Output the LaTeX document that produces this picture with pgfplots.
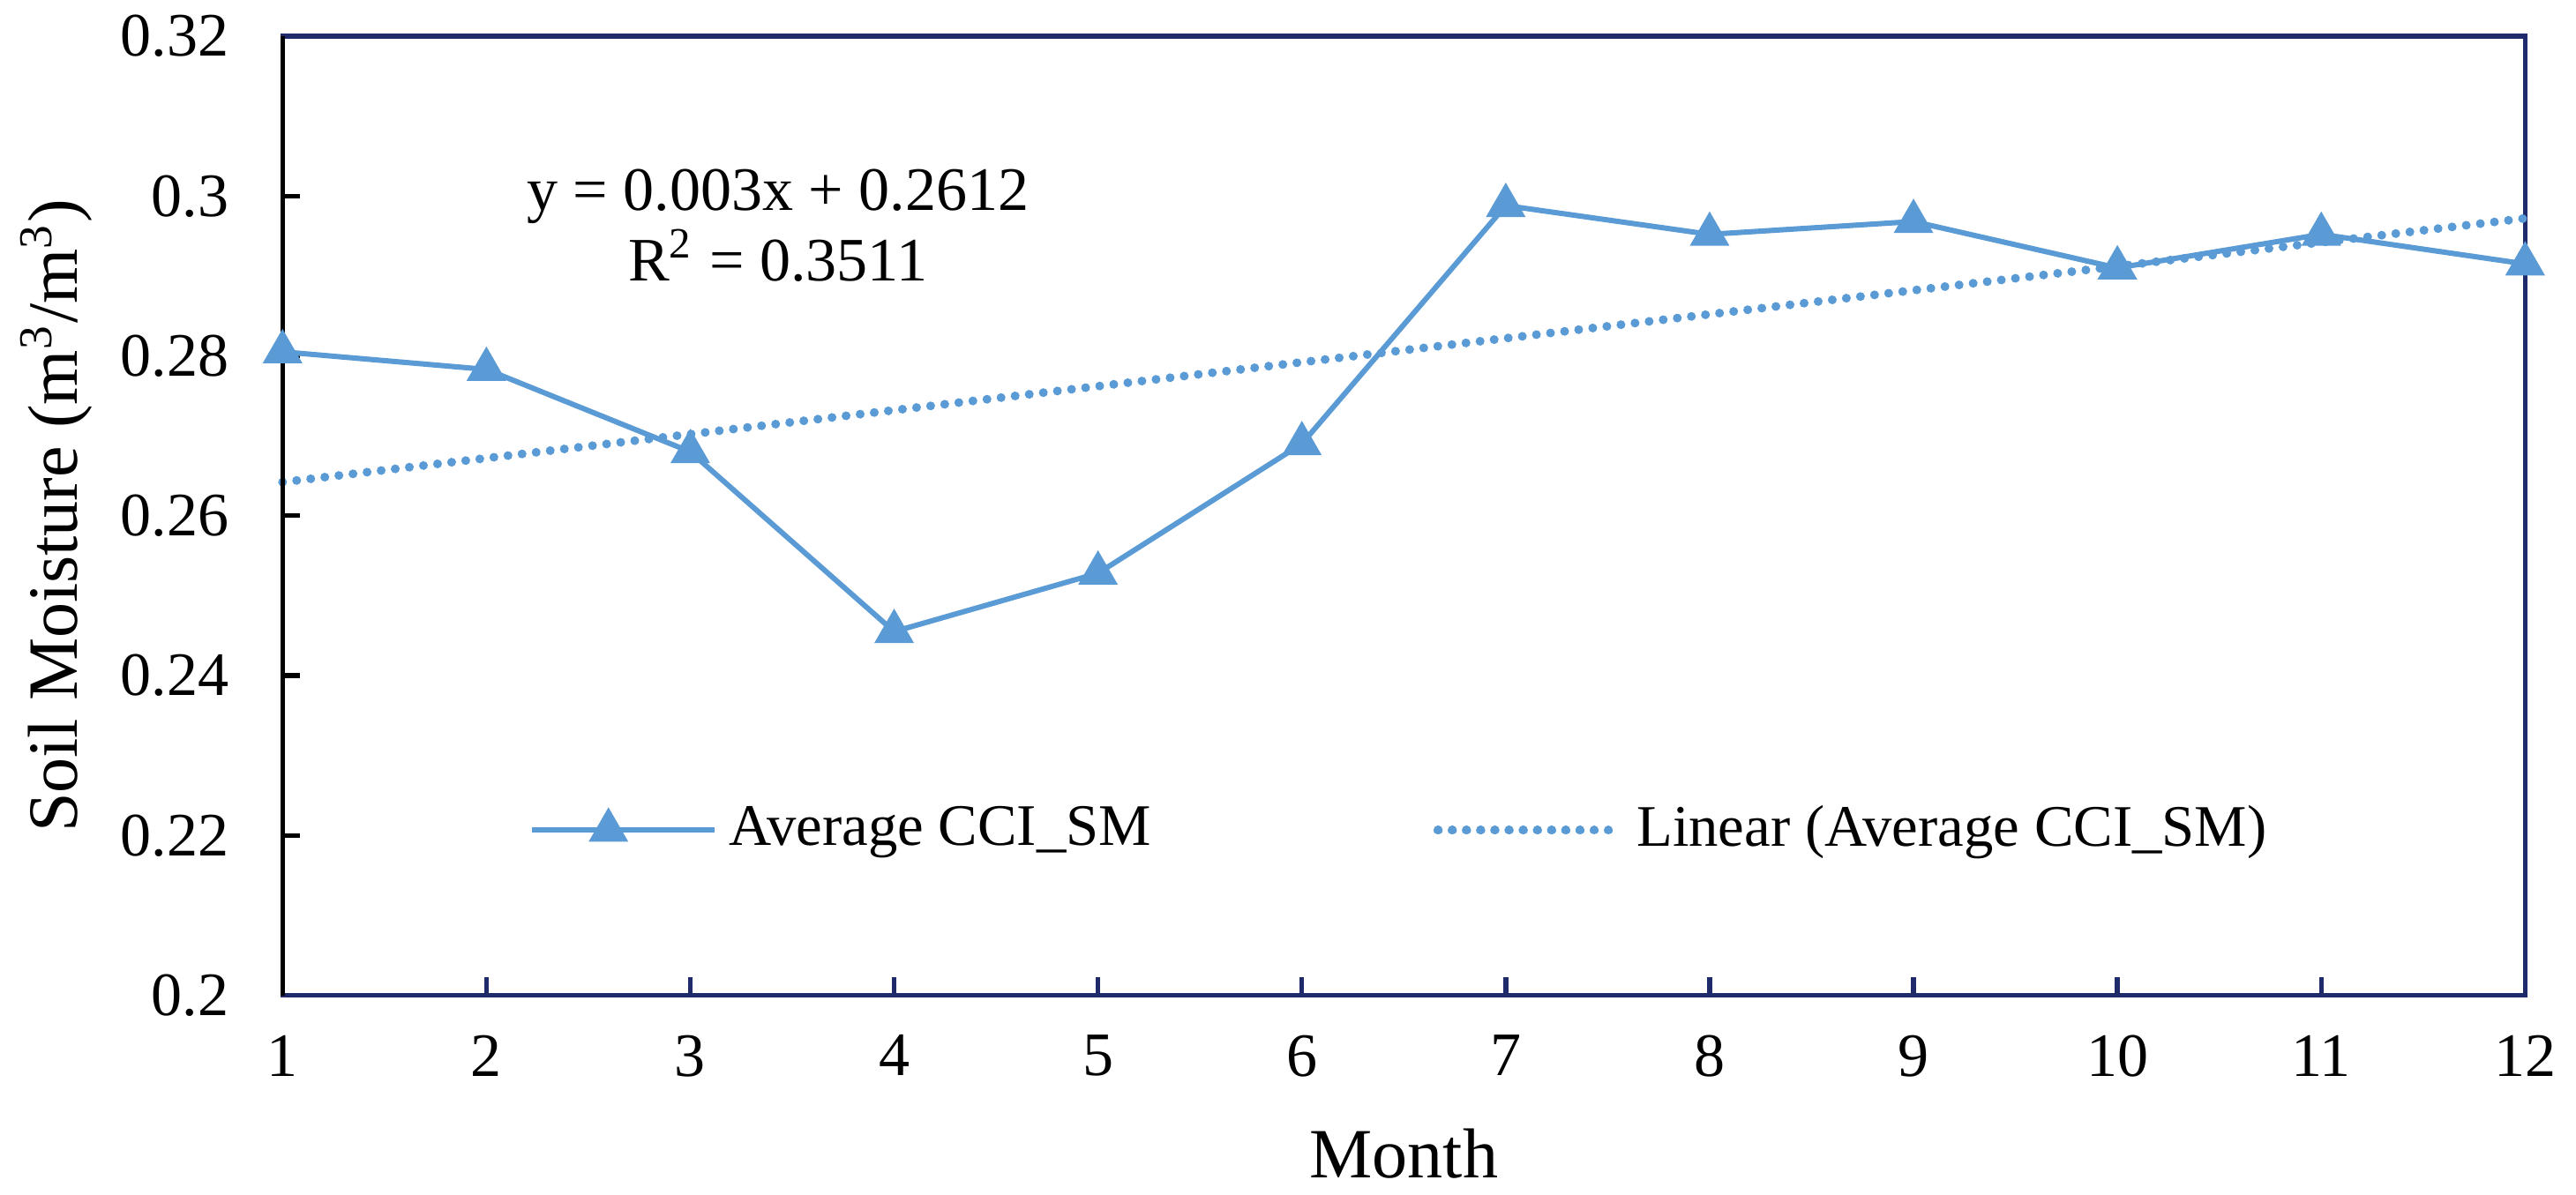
\documentclass[border=0pt]{standalone}
\usepackage{fontspec}
\setmainfont{Liberation Serif}
\usepackage{pgfplots}
\pgfplotsset{compat=1.18}

\definecolor{smblue}{HTML}{5B9BD5}
\definecolor{navy}{HTML}{1F2A6B}

\begin{document}
\fontsize{10.5}{12}\selectfont
\begin{tikzpicture}
\begin{axis}[
  name=ax,
  scale only axis,
  width=381pt, height=163pt,
  xmin=1, xmax=12, ymin=0.2, ymax=0.32,
  xtick={1,...,12},
  ytick={0.2,0.22,...,0.32},
  yticklabels={0.2,0.22,0.24,0.26,0.28,0.3,0.32},
  /pgf/number format/assume math mode=true,
  tick label style={font=\fontsize{10.5}{12}\selectfont},
  tick align=inside,
  major tick length=3pt,
  xtick pos=bottom, ytick pos=left,
  x tick style={navy, line width=0.8pt},
  y tick style={black, line width=0.8pt},
  axis line style={navy, line width=0.8pt},
  xticklabel style={yshift=-3.1pt},
  yticklabel style={xshift=-5.4pt},
  xlabel={Month},
  ylabel={Soil Moisture (m\textsuperscript{3}/m\textsuperscript{3})},
  label style={font=\fontsize{12}{14}\selectfont},
  xlabel style={yshift=-1.6pt},
  ylabel style={yshift=-2.3pt},
  legend columns=2,
  legend style={draw=none, fill=none, at={(0.5,0.172)}, anchor=center,
    font=\fontsize{10}{12}\selectfont,
    /tikz/every even column/.append style={column sep=46pt}},
  legend image code/.code={
    \path (0pt,0pt) -- (31pt,0pt);
    \draw[mark repeat=2, mark phase=2, #1] plot coordinates {(0pt,0pt) (13pt,0pt) (26pt,0pt)};
  },
  clip=false,
]
\addplot[smblue, line width=0.9pt, mark=triangle*, mark size=3pt,
  mark options={solid, fill=smblue}] coordinates {
  (1,0.2805) (2,0.2783) (3,0.2680) (4,0.2455) (5,0.2528) (6,0.2690)
  (7,0.2988) (8,0.2952) (9,0.2968) (10,0.2910) (11,0.2952) (12,0.2915)
};
\addlegendentry{Average CCI\_SM}
\addplot[smblue, line width=1.5pt, line cap=round,
  dash pattern=on 0.01pt off 2.4pt] coordinates {
  (1,0.2642) (12,0.2972)
};
\addlegendentry{Linear (Average CCI\_SM)}
\draw[black, line width=0.8pt] (rel axis cs:0,0) -- (rel axis cs:0,1);
\node[align=center, font=\fontsize{10.5}{11}\selectfont] at (axis cs:3.43,0.2963)
  {y = 0.003x + 0.2612\\R\textsuperscript{2} = 0.3511};
\end{axis}
\pgfresetboundingbox
\path ([shift={(-48pt,-33.8pt)}]ax.south west) rectangle ([shift={(8.65pt,6.14pt)}]ax.north east);
\end{tikzpicture}
\end{document}
